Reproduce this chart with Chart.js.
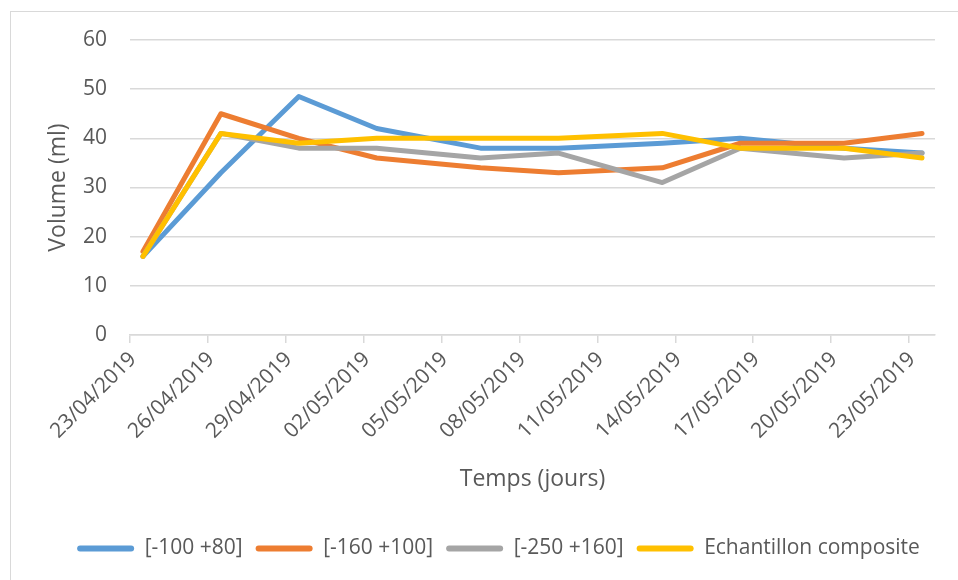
<!DOCTYPE html>
<html>
<head>
<meta charset="utf-8">
<script src="https://cdn.jsdelivr.net/npm/chart.js@4.4.0/dist/chart.umd.min.js"></script>
<style>
	body { margin: 0; background: #fff; overflow: hidden; }
	#wrap { position: relative; width: 958px; height: 580px; }
	#frame { position: absolute; left: 10px; top: 11px; width: 960px; height: 600px; border: 1px solid #d9d9d9; pointer-events: none; }
</style>
</head>
<body>
<div id="wrap">
	<canvas id="chart" width="958" height="580"></canvas>
	<div id="frame"></div>
</div>
<script>
const startDate = "23/04/2019";
const dates = ["23/04/2019", "26/04/2019", "29/04/2019", "02/05/2019", "06/05/2019", "09/05/2019", "13/05/2019", "16/05/2019", "20/05/2019", "23/05/2019"];
const seriesNames = ["[-100 +80]", "[-160 +100]", "[-250 +160]", "Echantillon composite"];
const serie100 = [16, 33, 48.5, 42, 38, 38, 39, 40, 38, 37];
const serie160 = [17, 45, 40, 36, 34, 33, 34, 39, 39, 41];
const serie250 = [16, 41, 38, 38, 36, 37, 31, 38, 36, 37];
const composite = [16, 41, 39, 40, 40, 40, 41, 38, 38, 36];
const colors = ["#5B9BD5", "#ED7D31", "#A5A5A5", "#FFC000"];

const textColor = "#595959";
const gridColor = "#d9d9d9";
const fontFamily = "'Open Sans', sans-serif";

function toDay(str) {
	const p = str.split("/");
	return Date.UTC(+p[2], +p[1] - 1, +p[0]) / 86400000;
}
const day0 = toDay(startDate);

function formatDay(value) {
	const d = new Date((day0 + value) * 86400000);
	const dd = String(d.getUTCDate()).padStart(2, "0");
	const mm = String(d.getUTCMonth() + 1).padStart(2, "0");
	return dd + "/" + mm + "/" + d.getUTCFullYear();
}

// date axis like Excel: each point sits in the middle of its day
function makeSerie(values) {
	return dates.map((date, i) => ({ x: toDay(date) - day0 + 0.5, y: values[i] }));
}

const allSeries = [serie100, serie160, serie250, composite];
const datasets = allSeries.map((values, i) => ({
	label: seriesNames[i],
	data: makeSerie(values),
	borderColor: colors[i],
	backgroundColor: colors[i],
	borderWidth: 5,
	borderJoinStyle: "round",
	borderCapStyle: "round",
	pointRadius: 0,
	tension: 0,
	fill: false,
	order: 3 - i,
}));

const legendShift = {
	id: "legendShift",
	afterLayout(chart) {
		chart.legend.left += 26;
		chart.legend.right += 26;
	},
};

new Chart(document.getElementById("chart"), {
	type: "line",
	data: { datasets: datasets },
	options: {
		responsive: false,
		animation: false,
		layout: { padding: { left: 10, right: 23, top: 40, bottom: 11 } },
		plugins: {
			tooltip: { enabled: false },
			legend: {
				position: "bottom",
				labels: {
					font: { family: fontFamily, size: 21 },
					color: textColor,
					boxWidth: 57,
					boxHeight: 6,
					useBorderRadius: true,
					borderRadius: 3,
					padding: 13,
					sort: (a, b) => a.datasetIndex - b.datasetIndex,
					generateLabels: (chart) =>
						Chart.defaults.plugins.legend.labels.generateLabels(chart).map((l) => ({ ...l, lineWidth: 0 })),
				},
			},
		},
		scales: {
			x: {
				type: "linear",
				min: 0,
				max: 31,
				afterBuildTicks: (scale) => {
					scale.ticks = [];
					for (let v = 0; v <= 30; v += 3) scale.ticks.push({ value: v });
				},
				afterFit: (scale) => { scale.height = 190; },
				ticks: {
					autoSkip: false,
					minRotation: 45,
					maxRotation: 45,
					padding: 4,
					labelOffset: 3,
					color: textColor,
					font: { family: fontFamily, size: 21 },
					callback: (value) => formatDay(value),
				},
				grid: { drawOnChartArea: false, drawTicks: true, tickLength: 8, color: gridColor, lineWidth: 1.5 },
				border: { display: true, color: gridColor, width: 1.5 },
				title: {
					display: true,
					text: "Temps (jours)",
					color: textColor,
					font: { family: fontFamily, size: 23 },
					padding: { top: 0, bottom: 32 },
				},
			},
			y: {
				min: 0,
				max: 60,
				afterFit: (scale) => { scale.width = 120; },
				ticks: {
					stepSize: 10,
					padding: 23,
					color: textColor,
					font: { family: fontFamily, size: 21 },
				},
				grid: { drawTicks: false, color: gridColor, lineWidth: 1.5 },
				border: { display: false },
				title: {
					display: true,
					text: "Volume (ml)",
					color: textColor,
					font: { family: fontFamily, size: 23 },
					padding: { top: 35, bottom: 0 },
				},
			},
		},
	},
	plugins: [legendShift],
});
</script>
</body>
</html>
